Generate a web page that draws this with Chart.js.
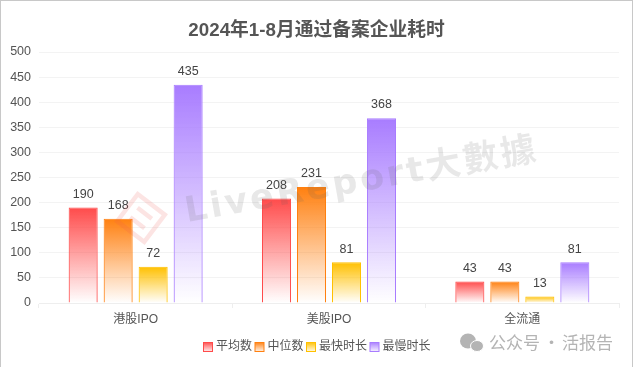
<!DOCTYPE html>
<html>
<head>
<meta charset="utf-8">
<style>
  html, body { margin: 0; padding: 0; background: #fff; overflow: hidden; }
  #frame { position: absolute; left: 0; top: 0; width: 634px; height: 368px; }
  #frame::after { content: ""; position: absolute; left: 0; top: 0; width: 631px; height: 366px; border: 1px solid #c8c8c8; border-bottom: none; pointer-events: none; }
  canvas { display: block; }
</style>
<script src="https://cdn.jsdelivr.net/npm/chart.js@4/dist/chart.umd.min.js"></script>
</head>
<body>
<div id="frame"><canvas id="chart" width="634" height="368"></canvas></div>
<script>
const FONT = '"Liberation Sans", "Noto Sans CJK SC", sans-serif';

// Values
const categories = ["港股IPO", "美股IPO", "全流通"];
const averageDays = [190, 208, 43];
const medianDays = [168, 231, 43];
const fastestDays = [72, 81, 13];
const slowestDays = [435, 368, 81];
const yTicks = [0, 50, 100, 150, 200, 250, 300, 350, 400, 450, 500];

function fadeFill(rgb) {
  return (context) => {
    const { chart, raw } = context;
    if (!chart.chartArea || raw === undefined) return `rgb(${rgb})`;
    const yScale = chart.scales.y;
    const g = chart.ctx.createLinearGradient(0, yScale.getPixelForValue(raw), 0, yScale.getPixelForValue(0));
    g.addColorStop(0, `rgba(${rgb}, 1)`);
    g.addColorStop(1, `rgba(${rgb}, 0)`);
    return g;
  };
}

function makeSeries(label, data, rgb) {
  return {
    label,
    data,
    rgb,
    backgroundColor: fadeFill(rgb),
    borderColor: `rgb(${rgb})`,
    borderWidth: 1,
    borderSkipped: "bottom",
    categoryPercentage: 0.724,
    barPercentage: 0.83,
  };
}

// The title sits centred on the page, not on the padded box
const titleNudge = {
  id: "titleNudge",
  afterLayout(chart) {
    chart.titleBlock.left += 7;
    chart.titleBlock.right += 7;
  },
};

// Value labels above every bar
const valueLabels = {
  id: "valueLabels",
  afterDatasetsDraw(chart) {
    const { ctx } = chart;
    ctx.save();
    ctx.font = "12.5px " + FONT;
    ctx.fillStyle = "#444";
    ctx.textAlign = "center";
    ctx.textBaseline = "bottom";
    chart.data.datasets.forEach((ds, i) => {
      chart.getDatasetMeta(i).data.forEach((bar, j) => {
        ctx.fillText(ds.data[j], bar.x, bar.y - 7);
      });
    });
    ctx.restore();
  },
};

// Legend row, tighter than the built-in one allows
const legendRow = {
  id: "legendRow",
  afterDraw(chart) {
    const { ctx } = chart;
    ctx.save();
    ctx.font = "12px " + FONT;
    ctx.textBaseline = "middle";
    let x = 203.5;
    chart.data.datasets.forEach((ds) => {
      const g = ctx.createLinearGradient(0, 342, 0, 352);
      g.addColorStop(0, `rgba(${ds.rgb}, 1)`);
      g.addColorStop(1, `rgba(${ds.rgb}, 0.05)`);
      ctx.fillStyle = g;
      ctx.strokeStyle = `rgb(${ds.rgb})`;
      ctx.lineWidth = 1;
      ctx.fillRect(x, 342.5, 9, 9);
      ctx.strokeRect(x, 342.5, 9, 9);
      ctx.fillStyle = "#555";
      ctx.fillText(ds.label, x + 12.5, 347);
      x += 12.5 + ctx.measureText(ds.label).width + 3;
    });
    ctx.restore();
  },
};

// LiveReport stamp and the WeChat account line
const watermarks = {
  id: "watermarks",
  afterDraw(chart) {
    const { ctx } = chart;
    ctx.save();
    ctx.translate(187, 222);
    ctx.rotate(-0.175);
    ctx.font = 'bold 35px "DejaVu Sans", "Noto Sans CJK SC", sans-serif';
    ctx.fillStyle = "rgba(90, 90, 90, 0.14)";
    ctx.letterSpacing = "3px";
    ctx.fillText("LiveReport大數據", 0, 0);
    ctx.restore();

    ctx.save();
    ctx.translate(141, 218);
    ctx.rotate(0.65);
    ctx.strokeStyle = "rgba(235, 90, 80, 0.16)";
    ctx.lineWidth = 4.5;
    ctx.strokeRect(-17, -17, 34, 34);
    ctx.beginPath();
    ctx.moveTo(-9, -6); ctx.lineTo(9, -6);
    ctx.moveTo(-9, 6); ctx.lineTo(9, 6);
    ctx.stroke();
    ctx.restore();

    ctx.save();
    ctx.fillStyle = "#b4b4b4";
    ctx.beginPath();
    ctx.ellipse(468, 341, 8, 7.5, 0, 0, Math.PI * 2);
    ctx.fill();
    ctx.strokeStyle = "#fff";
    ctx.beginPath();
    ctx.ellipse(477, 346, 6.5, 5.5, 0, 0, Math.PI * 2);
    ctx.fill();
    ctx.stroke();
    ctx.font = '17px "Noto Sans CJK SC", sans-serif';
    ctx.textBaseline = "middle";
    ctx.fillText("公众号", 489, 343);
    ctx.fillText("·", 543, 343);
    ctx.fillText("活报告", 562, 343);
    ctx.restore();
  },
};

new Chart(document.getElementById("chart"), {
  type: "bar",
  data: {
    labels: categories,
    datasets: [
      makeSeries("平均数", averageDays, "255, 75, 75"),
      makeSeries("中位数", medianDays, "255, 128, 16"),
      makeSeries("最快时长", fastestDays, "255, 192, 0"),
      makeSeries("最慢时长", slowestDays, "168, 124, 255"),
    ],
  },
  options: {
    responsive: false,
    animation: false,
    layout: { padding: { left: 0, right: 15, top: 0, bottom: 0 } },
    plugins: {
      title: {
        display: true,
        text: "2024年1-8月通过备案企业耗时",
        color: "#555",
        font: { family: FONT, size: 18.75, weight: "bold" },
        padding: { top: 20, bottom: 9.5 },
      },
      legend: { display: false },
      tooltip: { enabled: false },
    },
    scales: {
      x: {
        afterFit(axis) { axis.height = 65; },
        grid: { drawOnChartArea: false, tickLength: 5, tickColor: "#eee" },
        border: { color: "#eee" },
        ticks: { color: "#555", font: { family: FONT, size: 12 }, padding: 4 },
      },
      y: {
        min: 0,
        max: 500,
        afterBuildTicks(axis) { axis.ticks = yTicks.map((value) => ({ value })); },
        afterFit(axis) { axis.width = 39; },
        grid: { color: "#f3f3f3", drawTicks: false },
        border: { display: false },
        ticks: { color: "#555", font: { family: FONT, size: 12.5 }, padding: 8 },
      },
    },
  },
  plugins: [titleNudge, valueLabels, legendRow, watermarks],
});
</script>
</body>
</html>
